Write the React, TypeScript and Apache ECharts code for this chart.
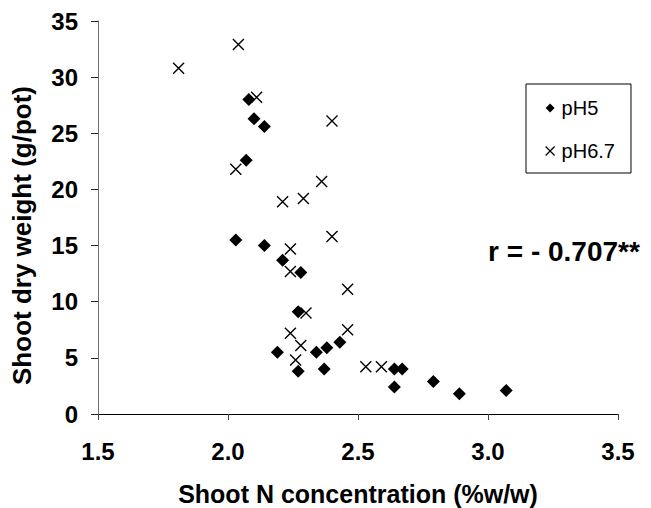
import React, { useEffect, useRef } from "react";
import * as echarts from "echarts";

// Shoot N concentration (% w/w) and shoot dry weight (g/pot)
const pH5N = [2.08, 2.10, 2.14, 2.07, 2.03, 2.14, 2.21, 2.28, 2.27, 2.19, 2.27, 2.34, 2.38, 2.43, 2.37, 2.64, 2.67, 2.64, 2.79, 2.89, 3.07];
const pH5W = [28.0, 26.3, 25.6, 22.6, 15.5, 15.0, 13.7, 12.6, 9.1, 5.5, 3.8, 5.5, 5.9, 6.4, 4.0, 4.0, 4.0, 2.4, 2.9, 1.8, 2.1];

const pH67N = [1.81, 2.04, 2.11, 2.03, 2.21, 2.29, 2.40, 2.36, 2.40, 2.24, 2.24, 2.46, 2.30, 2.24, 2.46, 2.28, 2.26, 2.53, 2.59];
const pH67W = [30.8, 32.9, 28.2, 21.8, 18.9, 19.2, 26.1, 20.7, 15.8, 14.7, 12.7, 11.1, 9.0, 7.2, 7.5, 6.1, 4.8, 4.2, 4.2];

const seriesNames = ["pH5", "pH6.7"];
const xMin = 1.5, xMax = 3.5, xStep = 0.5;
const yMin = 0, yMax = 35, yStep = 5;
const xTitle = "Shoot N concentration (%w/w)";
const yTitle = "Shoot dry weight (g/pot)";
const annotation = "r = - 0.707**";

const FONT = "'Liberation Sans', Arial, Helvetica, sans-serif";
const CROSS = "path://M0,0L10,10M10,0L0,10";

export default function App() {
  const ref = useRef<HTMLDivElement>(null);

  useEffect(() => {
    document.body.style.margin = "0";
    const chart = echarts.init(ref.current as HTMLDivElement, null, { renderer: "svg" });

    const pairs = (xs: number[], ys: number[]) => xs.map((x, i) => [x, ys[i]]);

    chart.setOption({
      animation: false,
      backgroundColor: "#ffffff",
      textStyle: { fontFamily: FONT, color: "#000" },
      grid: {
        left: 98,
        top: 21,
        width: 520,
        height: 393,
        containLabel: false,
        outerBoundsMode: "none",
      },
      xAxis: {
        type: "value",
        min: xMin,
        max: xMax,
        interval: xStep,
        name: xTitle,
        nameLocation: "middle",
        nameGap: 67,
        nameTextStyle: { fontFamily: FONT, fontWeight: "bold", fontSize: 25, color: "#000" },
        axisLine: { show: true, onZero: false, lineStyle: { color: "#000", width: 1 } },
        axisTick: { show: true, inside: false, length: 6, lineStyle: { color: "#444" } },
        axisLabel: {
          margin: 25,
          fontFamily: FONT,
          fontWeight: "bold",
          fontSize: 24,
          color: "#000",
          formatter: (v: number) => v.toFixed(1),
        },
        splitLine: { show: false },
      },
      yAxis: {
        type: "value",
        min: yMin,
        max: yMax,
        interval: yStep,
        name: yTitle,
        nameLocation: "middle",
        nameGap: 63,
        nameTextStyle: {
          fontFamily: FONT,
          fontWeight: "bold",
          fontSize: 26,
          color: "#000",
          padding: [0, 36, 0, 0],
        },
        axisLine: { show: true, onZero: false, lineStyle: { color: "#6e6e6e", width: 1 } },
        axisTick: { show: true, inside: false, length: 7, lineStyle: { color: "#222" } },
        axisLabel: {
          margin: 20,
          fontFamily: FONT,
          fontWeight: "bold",
          fontSize: 24,
          color: "#000",
        },
        splitLine: { show: false },
      },
      legend: {
        orient: "vertical",
        left: 526,
        top: 84,
        padding: [14, 16, 12, 19],
        itemGap: 23,
        itemWidth: 9,
        itemHeight: 9,
        borderColor: "#000",
        borderWidth: 1,
        backgroundColor: "#fff",
        textStyle: { fontFamily: FONT, fontSize: 20, color: "#000", padding: [0, 0, 0, 2] },
        data: [
          { name: seriesNames[0], icon: "diamond", itemStyle: { color: "#000" } },
          {
            name: seriesNames[1],
            icon: CROSS,
            itemStyle: { color: "transparent", borderColor: "#000", borderWidth: 1.2 },
          },
        ],
      },
      graphic: [
        {
          type: "text",
          x: 564,
          y: 251,
          style: {
            text: annotation,
            fontFamily: FONT,
            fontWeight: "bold",
            fontSize: 28,
            fill: "#000",
            align: "center",
            verticalAlign: "middle",
          },
        },
      ],
      series: [
        {
          name: seriesNames[0],
          type: "scatter",
          symbol: "diamond",
          symbolSize: 13,
          itemStyle: { color: "#000", opacity: 1 },
          data: pairs(pH5N, pH5W),
          z: 2,
        },
        {
          name: seriesNames[1],
          type: "scatter",
          symbol: CROSS,
          symbolSize: 11,
          itemStyle: { color: "transparent", borderColor: "#000", borderWidth: 1.4, opacity: 1 },
          data: pairs(pH67N, pH67W),
          z: 3,
        },
      ],
    });

    return () => chart.dispose();
  }, []);

  return <div ref={ref} style={{ width: 651, height: 508 }} />;
}
